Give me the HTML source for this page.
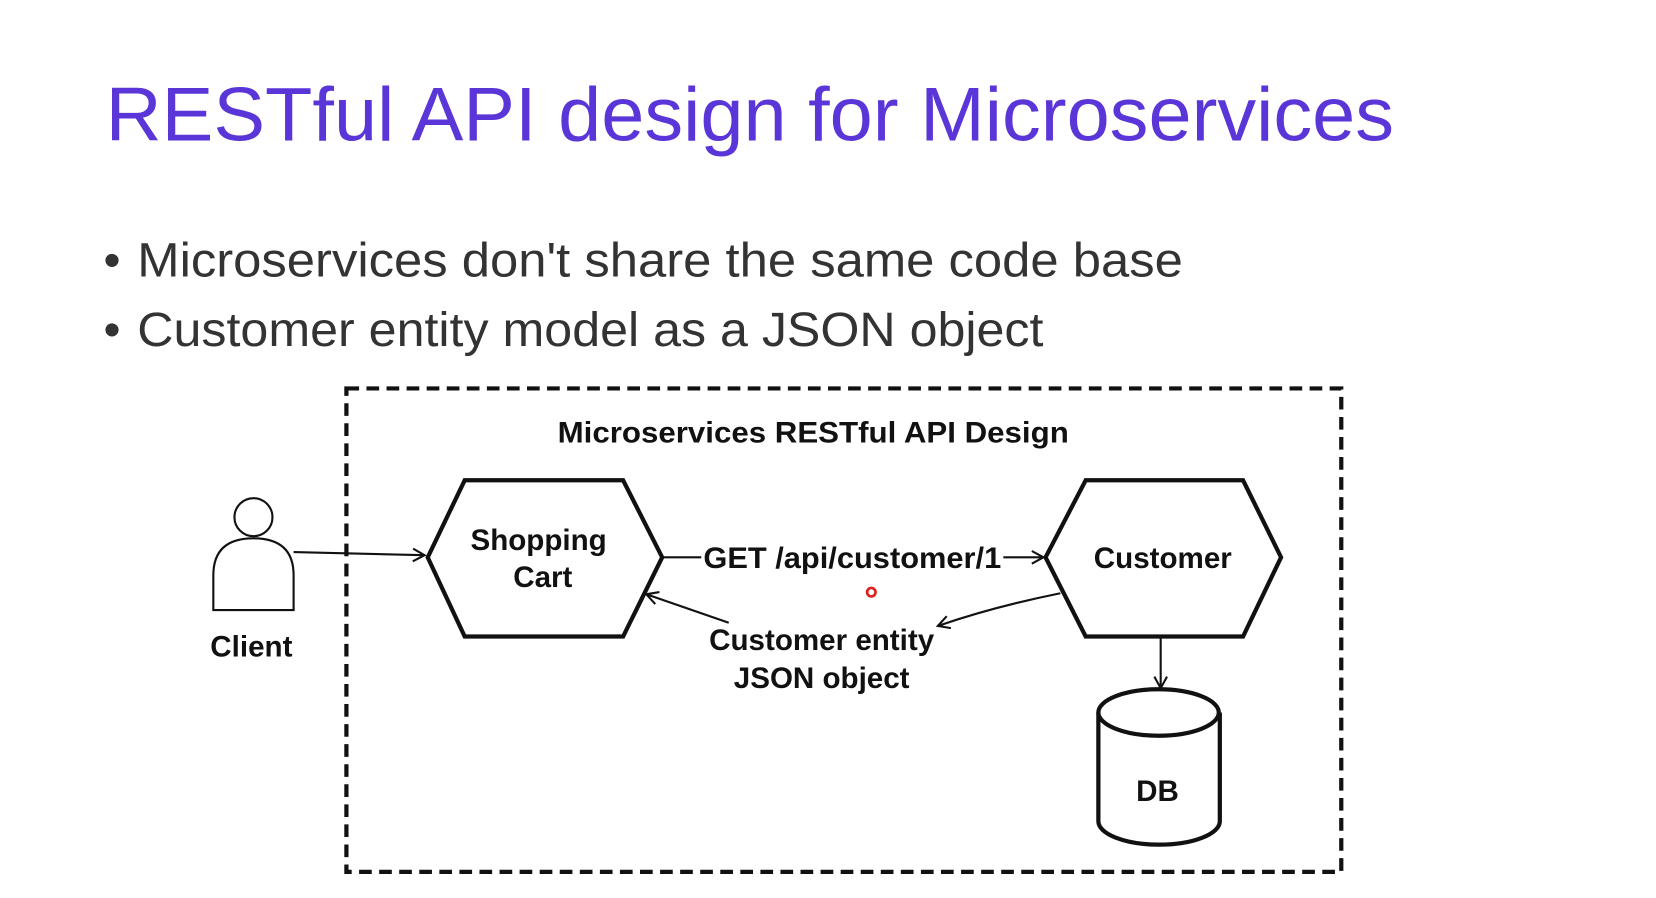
<!DOCTYPE html>
<html><head><meta charset="utf-8"><style>html,body{margin:0;padding:0;background:#fff;overflow:hidden}</style></head>
<body>
<svg width="1656" height="893" viewBox="0 0 1568 846" preserveAspectRatio="none" xmlns="http://www.w3.org/2000/svg">
<defs><marker id="a" markerWidth="14" markerHeight="14" refX="12" refY="7" orient="auto" markerUnits="userSpaceOnUse"><path d="M1,1 L12,7 L1,13" fill="none" stroke="#111" stroke-width="2"/></marker></defs>
<rect width="1568" height="846" fill="#fff"/>
<text x="100" y="133" font-family="Liberation Sans, sans-serif" font-size="72" fill="#5a35d8" textLength="1220" lengthAdjust="spacingAndGlyphs">RESTful API design for Microservices</text>
<g font-family="Liberation Sans, sans-serif" font-size="46" fill="#333">
<text x="98" y="262">•</text><text x="130" y="262" textLength="990" lengthAdjust="spacingAndGlyphs">Microservices don't share the same code base</text>
<text x="98" y="328">•</text><text x="130" y="328" textLength="858" lengthAdjust="spacingAndGlyphs">Customer entity model as a JSON object</text>
</g>
<rect x="328" y="368" width="942" height="458" fill="none" stroke="#111" stroke-width="4" stroke-dasharray="12,7"/>
<g font-family="Liberation Sans, sans-serif" font-weight="bold" fill="#111" font-size="28">
<text x="528" y="419" textLength="484" lengthAdjust="spacingAndGlyphs">Microservices RESTful API Design</text>
<text x="510" y="521" text-anchor="middle">Shopping</text>
<text x="514" y="556" text-anchor="middle">Cart</text>
<text x="1101" y="538" text-anchor="middle">Customer</text>
<text x="238" y="622" text-anchor="middle">Client</text>
<text x="666" y="538" textLength="282" lengthAdjust="spacingAndGlyphs">GET /api/customer/1</text>
<text x="778" y="616" text-anchor="middle">Customer entity</text>
<text x="778" y="652" text-anchor="middle">JSON object</text>
<text x="1096" y="759" text-anchor="middle">DB</text>
</g>
<g fill="none" stroke="#111">
<polygon points="440,455 590,455 627,528 590,603 440,603 405,528" stroke-width="4"/>
<polygon points="1028,455 1177,455 1213,528 1177,603 1028,603 990,528" stroke-width="4"/>
<circle cx="240" cy="490" r="18" stroke-width="2"/>
<path d="M202,578 L202,545 Q202,510 240,510 Q278,510 278,545 L278,578 Z" stroke-width="2"/>
<line x1="278" y1="523" x2="402" y2="526" stroke-width="2" marker-end="url(#a)"/>
<line x1="627" y1="528" x2="664" y2="528" stroke-width="2"/>
<line x1="950" y1="528" x2="988" y2="528" stroke-width="2" marker-end="url(#a)"/>
<line x1="690" y1="590" x2="612" y2="563" stroke-width="2" marker-end="url(#a)"/>
<path d="M1004,562 Q940,575 888,593" stroke-width="2" marker-end="url(#a)"/>
<line x1="1099" y1="603" x2="1099" y2="652" stroke-width="2" marker-end="url(#a)"/>
<path d="M1040,675 L1040,778 A57,22 0 0 0 1155,778 L1155,675" stroke-width="4"/>
<ellipse cx="1097" cy="675" rx="57" ry="22" stroke-width="4"/>
</g>
<circle cx="825" cy="561" r="4" fill="none" stroke="#e02020" stroke-width="2.5"/>
</svg>
</body></html>
